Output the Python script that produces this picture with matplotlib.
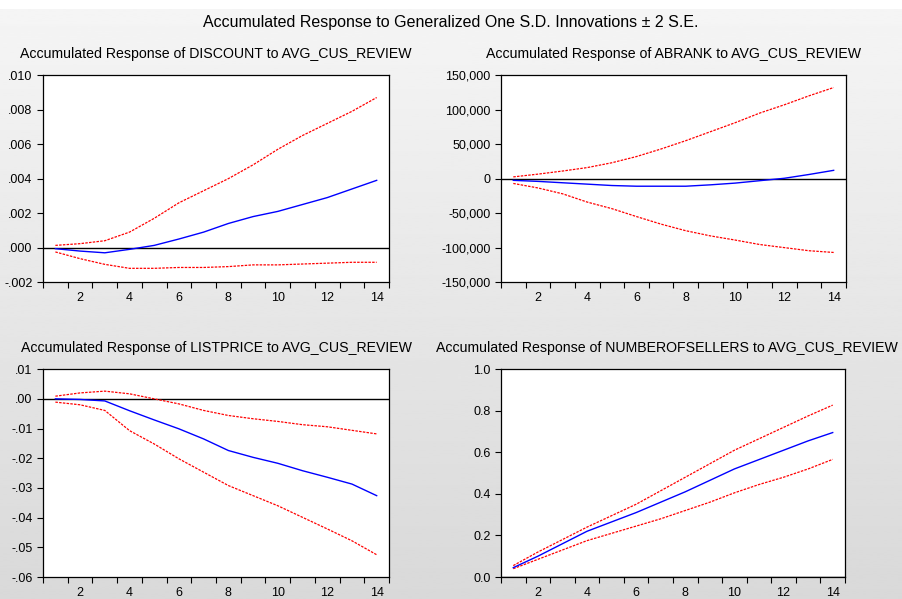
import matplotlib
matplotlib.use('Agg')
import matplotlib.pyplot as plt
import numpy as np

plt.rcParams['font.family'] = ['Liberation Sans', 'DejaVu Sans']

periods = list(range(1, 15))

# DISCOUNT
disc_mid = [-0.00006, -0.0002, -0.0003, -0.0001, 0.00013, 0.0005, 0.0009, 0.0014,
            0.0018, 0.0021, 0.0025, 0.0029, 0.0034, 0.0039]
disc_up = [0.00013, 0.00023, 0.0004, 0.0009, 0.0017, 0.0026, 0.0033, 0.0040,
           0.0048, 0.0057, 0.0065, 0.0072, 0.0079, 0.0087]
disc_lo = [-0.00025, -0.00064, -0.00097, -0.0012, -0.0012, -0.00115, -0.00115, -0.0011,
           -0.001, -0.001, -0.00095, -0.0009, -0.00085, -0.00085]

# ABRANK
abr_mid = [-2500, -4000, -6000, -8000, -10000, -11000, -11000, -11000,
           -9000, -6500, -3000, 500, 6000, 12000]
abr_up = [2500, 6500, 11000, 16000, 23000, 32000, 43000, 55000,
          68000, 81000, 95000, 107000, 120000, 132000]
abr_lo = [-7000, -13500, -22000, -34000, -43500, -55000, -66000, -75500,
          -83000, -89000, -95500, -100000, -104500, -107000]

# LISTPRICE
lp_mid = [0.0, -0.0002, -0.0007, -0.0040, -0.0071, -0.0101, -0.0135, -0.0174,
          -0.0197, -0.0217, -0.0242, -0.0264, -0.0287, -0.0326]
lp_up = [0.0009, 0.0020, 0.0026, 0.0017, 0.0000, -0.0017, -0.0039, -0.0056,
         -0.0067, -0.0076, -0.0087, -0.0094, -0.0106, -0.0118]
lp_lo = [-0.0011, -0.0020, -0.0039, -0.0107, -0.0152, -0.0202, -0.0247, -0.0292,
         -0.0326, -0.0360, -0.0399, -0.0438, -0.0478, -0.0525]

# NUMBEROFSELLERS
ns_mid = [0.045, 0.10, 0.16, 0.22, 0.265, 0.31, 0.36, 0.41, 0.465, 0.52, 0.565, 0.61, 0.655, 0.695]
ns_up = [0.055, 0.12, 0.18, 0.24, 0.295, 0.35, 0.415, 0.48, 0.545, 0.61, 0.665, 0.72, 0.775, 0.827]
ns_lo = [0.04, 0.085, 0.13, 0.175, 0.21, 0.245, 0.28, 0.32, 0.36, 0.405, 0.445, 0.48, 0.52, 0.566]

titles = ['Accumulated Response of DISCOUNT to AVG_CUS_REVIEW',
          'Accumulated Response of ABRANK to AVG_CUS_REVIEW',
          'Accumulated Response of LISTPRICE to AVG_CUS_REVIEW',
          'Accumulated Response of NUMBEROFSELLERS to AVG_CUS_REVIEW']

yticks = [[-0.002, 0.0, 0.002, 0.004, 0.006, 0.008, 0.010],
          [-150000, -100000, -50000, 0, 50000, 100000, 150000],
          [-0.06, -0.05, -0.04, -0.03, -0.02, -0.01, 0.0, 0.01],
          [0.0, 0.2, 0.4, 0.6, 0.8, 1.0]]
ylabels = [['-.002', '.000', '.002', '.004', '.006', '.008', '.010'],
           ['-150,000', '-100,000', '-50,000', '0', '50,000', '100,000', '150,000'],
           ['-.06', '-.05', '-.04', '-.03', '-.02', '-.01', '.00', '.01'],
           ['0.0', '0.2', '0.4', '0.6', '0.8', '1.0']]
xlabels = [2, 4, 6, 8, 10, 12, 14]

series = [(disc_mid, disc_up, disc_lo), (abr_mid, abr_up, abr_lo),
          (lp_mid, lp_up, lp_lo), (ns_mid, ns_up, ns_lo)]

fig = plt.figure(figsize=(9.02, 5.99), dpi=100, facecolor='white')

# grey gradient backdrop with a thin white strip on top
bg = fig.add_axes([0, 0, 1, 1 - 9 / 599], zorder=-10)
grad = np.linspace(0.96, 0.85, 256).reshape(-1, 1)
bg.imshow(grad, aspect='auto', cmap='gray', vmin=0, vmax=1, extent=[0, 1, 0, 1])
bg.axis('off')

fig.text(0.5, 0.963, 'Accumulated Response to Generalized One S.D. Innovations \u00b1 2 S.E.',
         ha='center', va='center', fontsize=11.5)

positions = [[0.0477, 0.529, 0.3836, 0.3456],
             [0.5554, 0.529, 0.3825, 0.3456],
             [0.0477, 0.0367, 0.3836, 0.347],
             [0.5554, 0.0367, 0.3814, 0.347]]
title_x = [0.5, 0.5, 0.5, 0.482]  # last one nudged left so it stays on the canvas

for i in range(4):
    ax = fig.add_axes(positions[i])
    mid, up, lo = series[i]
    ax.axhline(0, color='black', lw=1)
    ax.plot(periods, up, color='red', lw=0.9, linestyle=(0, (2, 1)))
    ax.plot(periods, lo, color='red', lw=0.9, linestyle=(0, (2, 1)))
    ax.plot(periods, mid, color='blue', lw=1)
    ax.set_xlim(0.5, 14.5)
    ax.set_ylim(yticks[i][0], yticks[i][-1])
    ax.set_yticks(yticks[i])
    ax.set_yticklabels(ylabels[i])
    ax.set_xticks(np.arange(0.5, 15, 1))
    ax.set_xticklabels([])
    ax.set_xticks(xlabels, minor=True)
    ax.set_xticklabels([str(v) for v in xlabels], minor=True)
    ax.tick_params(axis='x', which='major', direction='out', length=4, width=0.8)
    ax.tick_params(axis='x', which='minor', length=0, labelsize=9, pad=7)
    ax.tick_params(axis='y', direction='out', length=4, width=0.8, labelsize=9)
    for s in ax.spines.values():
        s.set_linewidth(0.9)
    ax.set_title(titles[i], fontsize=10.2, pad=12.5, x=title_x[i])

fig.savefig('out.png', dpi=100)
